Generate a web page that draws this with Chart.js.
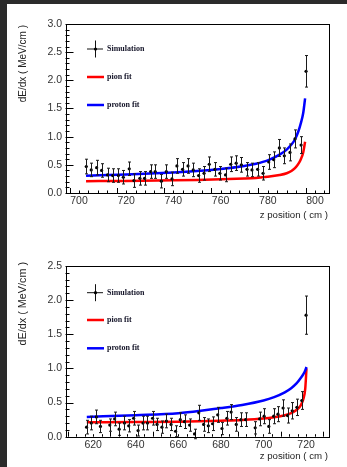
<!DOCTYPE html>
<html>
<head>
<meta charset="utf-8">
<script src="https://cdn.jsdelivr.net/npm/chart.js@4.4.1/dist/chart.umd.min.js"></script>
<style>
  body { margin: 0; background: #2b2b2b; width: 347px; height: 467px; overflow: hidden; }
  #page { position: absolute; left: 7px; top: 4px; width: 340px; height: 463px; background: #fff; }
  .panel { position: absolute; left: 0; }
</style>
</head>
<body>
<div id="page"></div>
<canvas id="chartTop" class="panel" style="top:0" width="347" height="232"></canvas>
<canvas id="chartBottom" class="panel" style="top:232px" width="347" height="235"></canvas>
<script>
// ---- top panel data ----
const zTop = [703.1, 705.2, 707.5, 709.6, 712.1, 714.3, 716.7, 718.8, 721.3, 723.3, 725.8, 727.8, 730.4, 732.3,
    734.9, 737.0, 739.4, 741.5, 743.9, 746.2, 748.4, 750.7, 753.0, 755.2, 757.6, 759.7, 762.1, 764.3,
    766.6, 768.8, 771.2, 773.3, 775.7, 778.0, 780.4, 782.5, 784.9, 787.0, 789.4, 791.5, 794.1, 796.2];
const simTop = [0.47, 0.41, 0.45, 0.40, 0.32, 0.31, 0.31, 0.28, 0.43, 0.22, 0.26, 0.26, 0.38, 0.38,
    0.21, 0.38, 0.25, 0.48, 0.42, 0.48, 0.41, 0.31, 0.35, 0.51, 0.42, 0.35, 0.32, 0.51,
    0.53, 0.50, 0.42, 0.41, 0.42, 0.35, 0.55, 0.59, 0.80, 0.66, 0.72, 0.96, 0.85, 2.16];
const errTop = [0.13, 0.12, 0.13, 0.12, 0.12, 0.12, 0.12, 0.12, 0.12, 0.12, 0.12, 0.12, 0.12, 0.12,
    0.12, 0.12, 0.12, 0.13, 0.12, 0.13, 0.12, 0.12, 0.12, 0.13, 0.12, 0.12, 0.12, 0.13,
    0.13, 0.13, 0.12, 0.12, 0.12, 0.12, 0.13, 0.14, 0.15, 0.14, 0.15, 0.16, 0.15, 0.28];
const pionTopZ = [703, 720, 740, 750, 760, 770, 775, 780, 785, 788, 790, 791.5, 793, 794, 795, 795.8];
const pionTopY = [0.21, 0.215, 0.225, 0.232, 0.242, 0.257, 0.268, 0.287, 0.318, 0.35, 0.39, 0.44, 0.52, 0.6, 0.72, 0.91];
const protonTopZ = [703, 720, 740, 750, 760, 770, 775, 780, 785, 788, 790, 791.5, 793, 794, 795, 795.8];
const protonTopY = [0.305, 0.33, 0.365, 0.39, 0.425, 0.48, 0.52, 0.58, 0.68, 0.77, 0.86, 0.95, 1.1, 1.24, 1.42, 1.68];
const xTicksTop = [700, 720, 740, 760, 780, 800];
const yTicksTop = [0, 0.5, 1.0, 1.5, 2.0, 2.5, 3.0];

// ---- bottom panel data ----
const zBot = [616.9, 619.1, 621.5, 623.4, 627.8, 630.1, 632.2, 634.7, 636.7, 639.0, 641.1, 643.4, 645.5, 647.9,
    650.0, 652.3, 654.4, 656.6, 658.7, 660.9, 662.9, 665.3, 667.6, 669.6, 671.9, 674.1, 676.1, 678.5,
    680.5, 682.8, 684.8, 687.2, 689.4, 691.6, 696.1, 698.2, 700.3, 702.5, 704.8, 706.8, 709.2, 711.3,
    713.5, 715.7, 718.0, 720.0];
const simBot = [0.14, 0.20, 0.29, 0.15, 0.17, 0.26, 0.11, 0.20, 0.16, 0.27, 0.09, 0.20, 0.20, 0.27,
    0.18, 0.14, 0.23, 0.18, 0.08, 0.25, 0.22, 0.17, 0.04, 0.35, 0.18, 0.16, 0.19, 0.32,
    0.12, 0.27, 0.36, 0.18, 0.25, 0.25, 0.13, 0.26, 0.30, 0.15, 0.30, 0.33, 0.42, 0.31,
    0.38, 0.43, 0.53, 1.78];
const errBot = [0.10, 0.10, 0.10, 0.09, 0.09, 0.10, 0.09, 0.10, 0.09, 0.10, 0.08, 0.10, 0.10, 0.10,
    0.09, 0.09, 0.10, 0.09, 0.08, 0.10, 0.10, 0.09, 0.07, 0.11, 0.10, 0.10, 0.10, 0.11,
    0.09, 0.10, 0.11, 0.10, 0.10, 0.10, 0.09, 0.10, 0.11, 0.10, 0.11, 0.11, 0.12, 0.11,
    0.12, 0.12, 0.13, 0.28];
const pionBotZ = [617, 640, 660, 680, 690, 700, 705, 710, 713, 715.5, 717.5, 718.8, 719.6, 720.2];
const pionBotY = [0.21, 0.215, 0.22, 0.235, 0.245, 0.265, 0.285, 0.315, 0.345, 0.39, 0.46, 0.56, 0.7, 1.0];
const protonBotZ = [617, 640, 660, 680, 690, 700, 705, 710, 713, 715.5, 717.5, 718.8, 719.6, 720.2];
const protonBotY = [0.29, 0.315, 0.345, 0.42, 0.465, 0.53, 0.58, 0.65, 0.71, 0.78, 0.86, 0.92, 0.97, 1.02];
const xTicksBot = [620, 640, 660, 680, 700, 720];
const yTicksBot = [0, 0.5, 1.0, 1.5, 2.0, 2.5];

const legendLabels = ['Simulation', 'pion fit', 'proton fit'];
const yTitle = 'dE/dx ( MeV/cm )';
const xTitle = 'z position ( cm )';

const toPoints = (xs, ys) => xs.map((x, i) => ({ x: x, y: ys[i] }));

// ROOT-like frame, inward ticks, error bars, legend and axis titles
const rootStyle = {
    id: 'rootStyle',
    afterDatasetsDraw(chart) {
        const ctx = chart.ctx;
        const xs = chart.scales.x, ys = chart.scales.y;
        ctx.save();
        ctx.strokeStyle = '#1a1a1a';
        ctx.lineWidth = 1;
        chart.data.datasets.forEach(ds => {
            if (!ds.errors) return;
            ds.data.forEach((p, i) => {
                const px = Math.round(xs.getPixelForValue(p.x)) + 0.5;
                const y1 = ys.getPixelForValue(p.y - ds.errors[i]);
                const y2 = ys.getPixelForValue(p.y + ds.errors[i]);
                ctx.beginPath();
                ctx.moveTo(px, y1); ctx.lineTo(px, y2);
                ctx.moveTo(px - 1.5, y1); ctx.lineTo(px + 1.5, y1);
                ctx.moveTo(px - 1.5, y2); ctx.lineTo(px + 1.5, y2);
                ctx.stroke();
            });
        });
        ctx.restore();
    },
    afterDraw(chart, args, opts) {
        const ctx = chart.ctx;
        const a = chart.chartArea;
        const xs = chart.scales.x, ys = chart.scales.y;
        ctx.save();
        ctx.strokeStyle = '#000';
        ctx.lineWidth = 1;
        ctx.strokeRect(Math.round(a.left) + 0.5, Math.round(a.top) + 0.5,
            Math.round(a.right - a.left), Math.round(a.bottom - a.top));

        // y ticks (point right, into the frame)
        ctx.beginPath();
        for (let v = 0; v <= ys.max + 1e-6; v += 0.1) {
            const py = Math.round(ys.getPixelForValue(v)) + 0.5;
            const major = Math.abs(v / 0.5 - Math.round(v / 0.5)) < 1e-6;
            ctx.moveTo(a.left, py);
            ctx.lineTo(a.left + (major ? 8 : 4), py);
        }
        // x ticks (point up)
        const first = opts.xFirst;
        for (let v = first; v <= xs.max; v += 4) {
            if (v < xs.min) continue;
            const px = Math.round(xs.getPixelForValue(v)) + 0.5;
            const major = (v - first) % 20 === 0;
            ctx.moveTo(px, a.bottom);
            ctx.lineTo(px, a.bottom - (major ? 5 : 2.5));
        }
        ctx.stroke();

        // axis titles
        ctx.fillStyle = '#222';
        ctx.font = opts.yTitleSize + 'px "Liberation Sans", Arial, sans-serif';
        ctx.save();
        ctx.translate(23.5, a.top + opts.yTitleShift);
        ctx.rotate(-Math.PI / 2);
        ctx.textAlign = 'right';
        ctx.textBaseline = 'middle';
        ctx.fillText(yTitle, 0, 0);
        ctx.restore();
        ctx.font = '9.7px "Liberation Sans", Arial, sans-serif';
        ctx.textAlign = 'right';
        ctx.textBaseline = 'middle';
        ctx.fillText(xTitle, a.right, opts.xTitleY);

        // legend
        const lx = 87, lw = 17, tx = 107;
        const ly = opts.legendY;
        ctx.strokeStyle = '#111';
        ctx.lineWidth = 1;
        ctx.beginPath();
        ctx.moveTo(lx, ly[0]); ctx.lineTo(lx + lw - 1, ly[0]);
        ctx.moveTo(lx + lw / 2, ly[0] - 8.5); ctx.lineTo(lx + lw / 2, ly[0] + 8.5);
        ctx.stroke();
        ctx.fillStyle = '#000';
        ctx.beginPath();
        ctx.arc(lx + lw / 2, ly[0], 1.6, 0, Math.PI * 2);
        ctx.fill();
        ctx.lineWidth = 2.5;
        ctx.strokeStyle = '#ff0000';
        ctx.beginPath(); ctx.moveTo(lx, ly[1]); ctx.lineTo(lx + lw, ly[1]); ctx.stroke();
        ctx.strokeStyle = '#0000ff';
        ctx.beginPath(); ctx.moveTo(lx, ly[2]); ctx.lineTo(lx + lw, ly[2]); ctx.stroke();
        ctx.fillStyle = '#141428';
        ctx.font = 'bold 8px "Liberation Serif", "Times New Roman", serif';
        ctx.textAlign = 'left';
        legendLabels.forEach((t, i) => ctx.fillText(t, tx, ly[i]));
        ctx.restore();
    }
};

function makeChart(id, cfg) {
    const tickFont = { family: '"Liberation Sans", Arial, sans-serif', size: 10.5 };
    return new Chart(document.getElementById(id), {
        type: 'scatter',
        data: {
            datasets: [
                {
                    label: 'pion fit',
                    data: toPoints(cfg.pionZ, cfg.pionY),
                    showLine: true,
                    borderColor: '#ff0000',
                    borderWidth: 2.5,
                    pointRadius: 0,
                    cubicInterpolationMode: 'monotone',
                    order: 3
                },
                {
                    label: 'proton fit',
                    data: toPoints(cfg.protonZ, cfg.protonY),
                    showLine: true,
                    borderColor: '#0000ff',
                    borderWidth: 2.5,
                    pointRadius: 0,
                    cubicInterpolationMode: 'monotone',
                    order: 2
                },
                {
                    label: 'Simulation',
                    data: toPoints(cfg.z, cfg.sim),
                    errors: cfg.err,
                    pointRadius: 1.6,
                    pointBackgroundColor: '#000',
                    pointBorderWidth: 0,
                    order: 1
                }
            ]
        },
        options: {
            responsive: false,
            animation: false,
            events: [],
            layout: { padding: { top: cfg.padTop, right: 19, left: 0, bottom: 0 } },
            plugins: {
                legend: { display: false },
                tooltip: { enabled: false },
                rootStyle: {
                    xFirst: cfg.xFirst,
                    legendY: cfg.legendY,
                    yTitleSize: cfg.yTitleSize,
                    yTitleShift: cfg.yTitleShift,
                    xTitleY: cfg.xTitleY
                }
            },
            scales: {
                x: {
                    type: 'linear',
                    min: cfg.xMin,
                    max: cfg.xMax,
                    grid: { display: false, drawTicks: false },
                    border: { display: false },
                    afterBuildTicks: s => { s.ticks = cfg.xTicks.map(v => ({ value: v })); },
                    afterFit: s => { s.height = cfg.xAxisH; },
                    ticks: { font: tickFont, color: '#333', padding: 2, maxRotation: 0, autoSkip: false }
                },
                y: {
                    type: 'linear',
                    min: 0,
                    max: cfg.yMax,
                    grid: { display: false, drawTicks: false },
                    border: { display: false },
                    afterBuildTicks: s => { s.ticks = cfg.yTicks.map(v => ({ value: v })); },
                    afterFit: s => { s.width = 65.5; },
                    ticks: { font: tickFont, color: '#333', padding: 3.5, callback: v => v.toFixed(1) }
                }
            }
        },
        plugins: [rootStyle]
    });
}

makeChart('chartTop', {
    z: zTop, sim: simTop, err: errTop,
    pionZ: pionTopZ, pionY: pionTopY, protonZ: protonTopZ, protonY: protonTopY,
    xTicks: xTicksTop, yTicks: yTicksTop,
    xMin: 694.3, xMax: 805.5, yMax: 3.0, xFirst: 696,
    padTop: 24, xAxisH: 39,
    legendY: [49, 77, 105], yTitleSize: 10, yTitleShift: 1, xTitleY: 215
});

makeChart('chartBottom', {
    z: zBot, sim: simBot, err: errBot,
    pionZ: pionBotZ, pionY: pionBotY, protonZ: protonBotZ, protonY: protonBotY,
    xTicks: xTicksBot, yTicks: yTicksBot,
    xMin: 607, xMax: 730.3, yMax: 2.5, xFirst: 608,
    padTop: 34, xAxisH: 30.3,
    legendY: [60.7, 88, 116.3], yTitleSize: 10.8, yTitleShift: -4, xTitleY: 224.7
});
</script>
</body>
</html>
